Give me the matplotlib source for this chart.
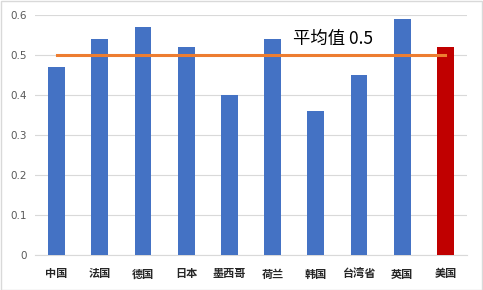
import matplotlib
matplotlib.use("Agg")
import matplotlib.pyplot as plt
from matplotlib.patches import Rectangle

plt.rcParams['font.family'] = ['Noto Sans CJK SC', 'DejaVu Sans']

categories = ['中国', '法国', '德国', '日本', '墨西哥', '荷兰', '韩国', '台湾省', '英国', '美国']
values = [0.47, 0.54, 0.57, 0.52, 0.40, 0.54, 0.36, 0.45, 0.59, 0.52]
average = 0.5
avg_label = '平均值 0.5'
yticks = [0, 0.1, 0.2, 0.3, 0.4, 0.5, 0.6]
ytick_labels = ['0', '0.1', '0.2', '0.3', '0.4', '0.5', '0.6']

colors = ['#4472C4'] * (len(categories) - 1) + ['#C00000']

fig = plt.figure(figsize=(4.83, 2.90), dpi=100)
ax = fig.add_axes([35/483, 35/290, 432/483, 240/290])

x = list(range(len(categories)))
ax.bar(x, values, width=0.39, color=colors, zorder=3)
ax.plot([x[0], x[-1]], [average, average], color='#ED7D31', linewidth=2.2, zorder=4)
ax.text(5.47, 0.54, avg_label, fontsize=12.5, color='#000000', va='center', ha='left', zorder=5)

ax.set_xlim(-0.5, len(categories) - 0.5)
ax.set_ylim(0, 0.6)
ax.set_yticks(yticks)
ax.set_yticklabels(ytick_labels, fontsize=7.5, color='#595959', family=['DejaVu Sans'])
ax.set_xticks(x)
ax.set_xticklabels(categories, fontsize=8, color='#262626', fontweight='bold')
ax.tick_params(axis='y', length=0, pad=6)
ax.tick_params(axis='x', length=0, pad=9)
ax.grid(axis='y', color='#D9D9D9', linewidth=0.8, zorder=0)
for s in ['top', 'right', 'left']:
    ax.spines[s].set_visible(False)
ax.spines['bottom'].set_color('#D9D9D9')
ax.spines['bottom'].set_linewidth(0.8)

fig.patches.append(Rectangle((0.5/483, 0.5/290), 1 - 1.5/483, 1 - 1.5/290, transform=fig.transFigure,
                             fill=False, edgecolor='#D9D9D9', linewidth=1))

fig.savefig('out.png', dpi=100)
